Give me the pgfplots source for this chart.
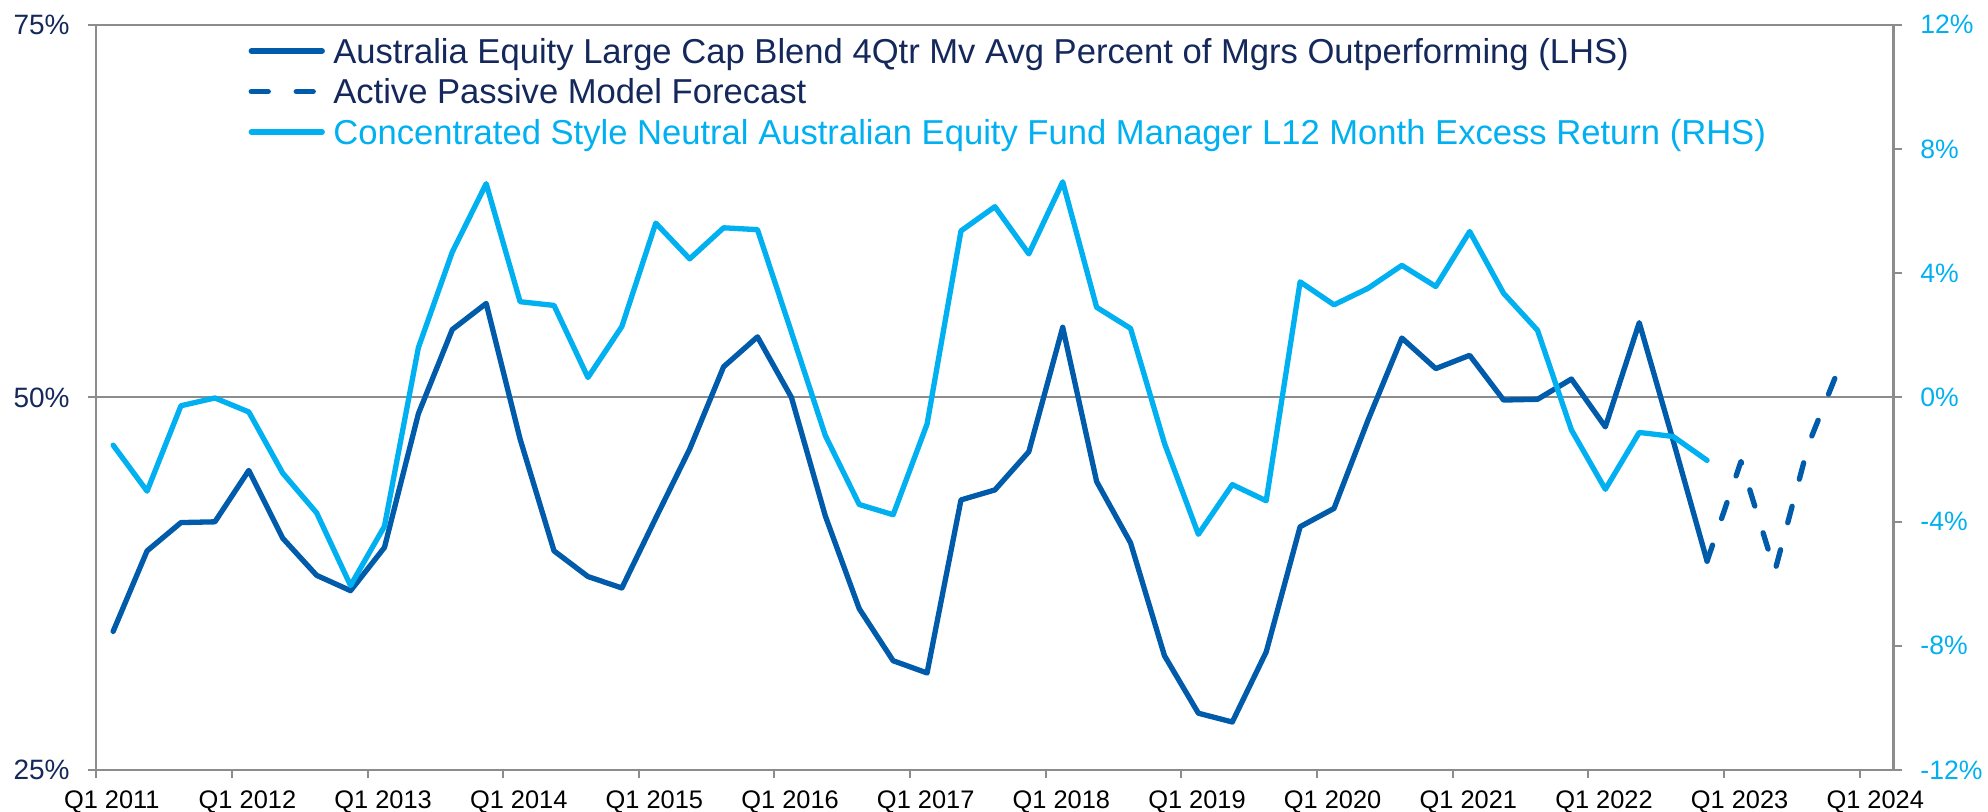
\documentclass[border=0pt]{standalone}
\usepackage{fontspec}
\setmainfont{Liberation Sans}
\usepackage{pgfplots}
\usepackage{pgfplotstable}
\pgfplotsset{compat=1.18}
\definecolor{darkblue}{HTML}{005BAA}
\definecolor{lightblue}{HTML}{00B0F0}
\definecolor{navy}{HTML}{14285C}
\definecolor{axgray}{HTML}{8C8C8C}

\pgfplotstableread{
x v
0.5 34.3
1.5 39.7
2.5 41.6
3.5 41.65
4.5 45.1
5.5 40.55
6.5 38.06
7.5 37.03
8.5 39.93
9.5 48.9
10.5 54.55
11.5 56.3
12.5 47.2
13.5 39.7
14.5 37.98
15.5 37.21
16.5 41.9
17.5 46.53
18.5 52.05
19.5 54.06
20.5 50.0
21.5 42.04
22.5 35.82
23.5 32.33
24.5 31.51
25.5 43.12
26.5 43.79
27.5 46.35
28.5 54.70
29.5 44.35
30.5 40.24
31.5 32.67
32.5 28.81
33.5 28.22
34.5 32.92
35.5 41.32
36.5 42.55
37.5 48.46
38.5 53.98
39.5 51.93
40.5 52.82
41.5 49.82
42.5 49.87
43.5 51.23
44.5 48.02
45.5 55.01
46.5 47.1
47.5 39.01
}\lhs

\pgfplotstableread{
x v
47.5 39.01
48.5 45.7
49.5 38.35
50.5 46.9
51.5 52.6
}\fcst

\pgfplotstableread{
x v
0.5 -1.54
1.5 -3.02
2.5 -0.27
3.5 -0.02
4.5 -0.47
5.5 -2.44
6.5 -3.72
7.5 -6.06
8.5 -4.15
9.5 1.60
10.5 4.68
11.5 6.88
12.5 3.08
13.5 2.96
14.5 0.64
15.5 2.28
16.5 5.61
17.5 4.46
18.5 5.46
19.5 5.40
20.5 2.10
21.5 -1.23
22.5 -3.45
23.5 -3.78
24.5 -0.86
25.5 5.36
26.5 6.14
27.5 4.62
28.5 6.94
29.5 2.90
30.5 2.22
31.5 -1.48
32.5 -4.41
33.5 -2.81
34.5 -3.33
35.5 3.72
36.5 2.98
37.5 3.51
38.5 4.25
39.5 3.57
40.5 5.34
41.5 3.35
42.5 2.16
43.5 -1.05
44.5 -2.96
45.5 -1.13
46.5 -1.26
47.5 -2.03
}\rhs

\pgfplotsset{
  common/.style={
    at={(0pt,0pt)}, anchor=south west,
    scale only axis, width=898.7pt, height=372.65pt,
    xmin=0, xmax=53,
    tick align=outside, major tick length=4.2pt,
    every tick/.style={axgray, line width=1pt},
    axis line style={axgray, line width=1.2pt},
  },
}

\begin{document}
\begin{tikzpicture}
\useasboundingbox (-48.1pt,-20.5pt) rectangle (945.9pt,385pt);
\begin{axis}[common,
  ymin=25, ymax=75,
  xtick={0,4,...,52},
  xticklabels={Q1 2011,Q1 2012,Q1 2013,Q1 2014,Q1 2015,Q1 2016,Q1 2017,Q1 2018,Q1 2019,Q1 2020,Q1 2021,Q1 2022,Q1 2023,Q1 2024},
  ytick={25,50,75}, yticklabels={25\%,50\%,75\%},
  xtick pos=left, ytick pos=left,
  ymajorgrids, grid style={axgray, line width=1pt},
  xticklabel style={font=\fontsize{12.7}{14}\selectfont, text=black, inner sep=0pt,
    text height=9.1pt, text depth=0pt, anchor=north, xshift=7.8pt, yshift=-5.8pt},
  yticklabel style={font=\fontsize{14}{16}\selectfont, text=navy, inner sep=0pt,
    anchor=east, xshift=-8.9pt},
]
\addplot[darkblue, line width=2.65pt, line join=round, line cap=round] table[x=x, y=v] {\lhs};
\addplot[darkblue, line width=2.65pt, line join=round, line cap=round, dash pattern=on 8.5pt off 14pt] table[x=x, y=v] {\fcst};
\end{axis}
\begin{axis}[common,
  ymin=-12, ymax=12,
  xtick=\empty,
  ytick={-12,-8,...,12}, yticklabels={-12\%,-8\%,-4\%,0\%,4\%,8\%,12\%},
  ytick pos=right,
  yticklabel style={font=\fontsize{13.3}{15}\selectfont, text=lightblue, inner sep=0pt,
    anchor=west, xshift=9pt},
  legend cell align=left,
  legend image code/.code={\draw[#1] (0pt,0pt) -- (35.5pt,0pt);},
  legend style={draw=none, fill=none, inner sep=0pt, outer sep=0pt,
    at={(axis description cs:0.0848,0.9813)}, anchor=north west,
    font=\fontsize{17.3}{20}\selectfont,
    nodes={inner sep=0pt, text height=12.4pt, text depth=0pt},
    /tikz/column sep=4.2pt, /tikz/row sep=7.85pt},
]
\addlegendimage{darkblue, line width=2.65pt, line cap=round}
\addlegendentry{\textcolor{navy}{Australia Equity Large Cap Blend 4Qtr Mv Avg Percent of Mgrs Outperforming (LHS)}}
\addlegendimage{darkblue, line width=2.65pt, line cap=round, dash pattern=on 8.5pt off 14pt}
\addlegendentry{\textcolor{navy}{Active Passive Model Forecast}}
\addplot[lightblue, line width=2.65pt, line join=round, line cap=round] table[x=x, y=v] {\rhs};
\addlegendentry{\textcolor{lightblue}{Concentrated Style Neutral Australian Equity Fund Manager L12 Month Excess Return (RHS)}}
\end{axis}
\end{tikzpicture}
\end{document}
